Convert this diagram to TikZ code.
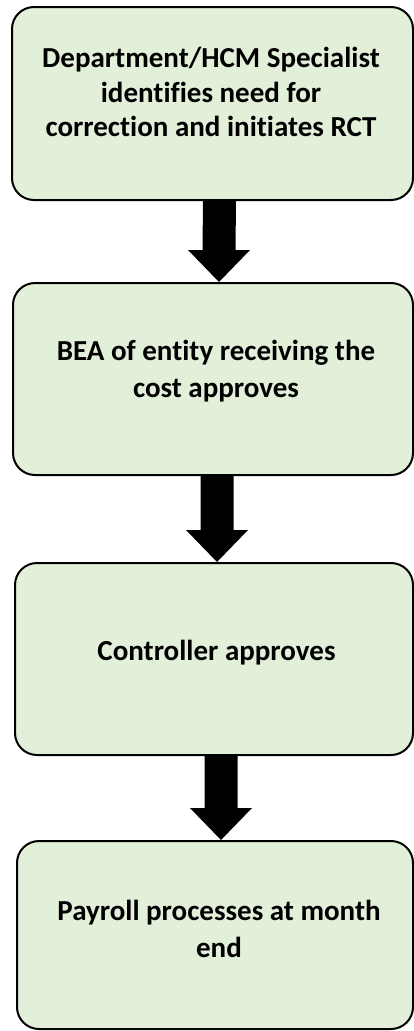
\documentclass[tikz,border=0pt]{standalone}
\usepackage{fontspec}
\setmainfont{Carlito}[Ligatures=NoCommon]
\usetikzlibrary{calc}
\definecolor{boxfill}{HTML}{E2EFD9}
\tikzset{
  box/.style={draw=black, line width=2pt, fill=boxfill, rounded corners=22pt, inner sep=0pt},
  txt/.style={align=center, font=\fontsize{29}{34.5}\selectfont\bfseries, inner sep=0pt},
  txtwide/.style={txt, font=\fontsize{29}{37}\selectfont\bfseries},
  blockarrow/.style={fill=black}
}
\newcommand{\blockarr}[2]{%
  \fill[blockarrow] ($(#1)+(-16.5pt,0)$) -- ($(#1)+(16.5pt,0)$) -- ($(#2)+(16.5pt,32pt)$) -- ($(#2)+(31pt,32pt)$) -- (#2) -- ($(#2)+(-31pt,32pt)$) -- ($(#2)+(-16.5pt,32pt)$) -- cycle;}
\begin{document}
\begin{tikzpicture}[x=1pt,y=-1pt]
\useasboundingbox (0,0) rectangle (414,1031);
\node[box, minimum width=401pt, minimum height=193pt] (b1) at (212.5,103.5) {};
\node[box, minimum width=400pt, minimum height=192pt] (b2) at (213,379) {};
\node[box, minimum width=398pt, minimum height=192pt] (b3) at (214,659) {};
\node[box, minimum width=396pt, minimum height=188pt] (b4) at (215,935) {};
\node[txt] (t1) at (211,92) {Department/HCM Specialist\\identifies need for\\correction and initiates RCT};
\node[txtwide] (t2) at (216,371.5) {BEA of entity receiving the\\cost approves};
\node[txt] (t3) at (216.5,653) {Controller approves};
\node[txtwide] (t4) at (219,929) {Payroll processes at month\\end};
\coordinate (a1s) at ($(b1.south)+(7pt,0)$);
\coordinate (a1e) at ($(b2.north)+(6pt,0)$);
\coordinate (a2s) at ($(b2.south)+(4pt,0)$);
\coordinate (a2e) at ($(b3.north)+(3pt,0)$);
\coordinate (a3s) at ($(b3.south)+(7pt,0)$);
\coordinate (a3e) at ($(b4.north)+(6pt,0)$);
\blockarr{a1s}{a1e}
\blockarr{a2s}{a2e}
\blockarr{a3s}{a3e}
\end{tikzpicture}
\end{document}
